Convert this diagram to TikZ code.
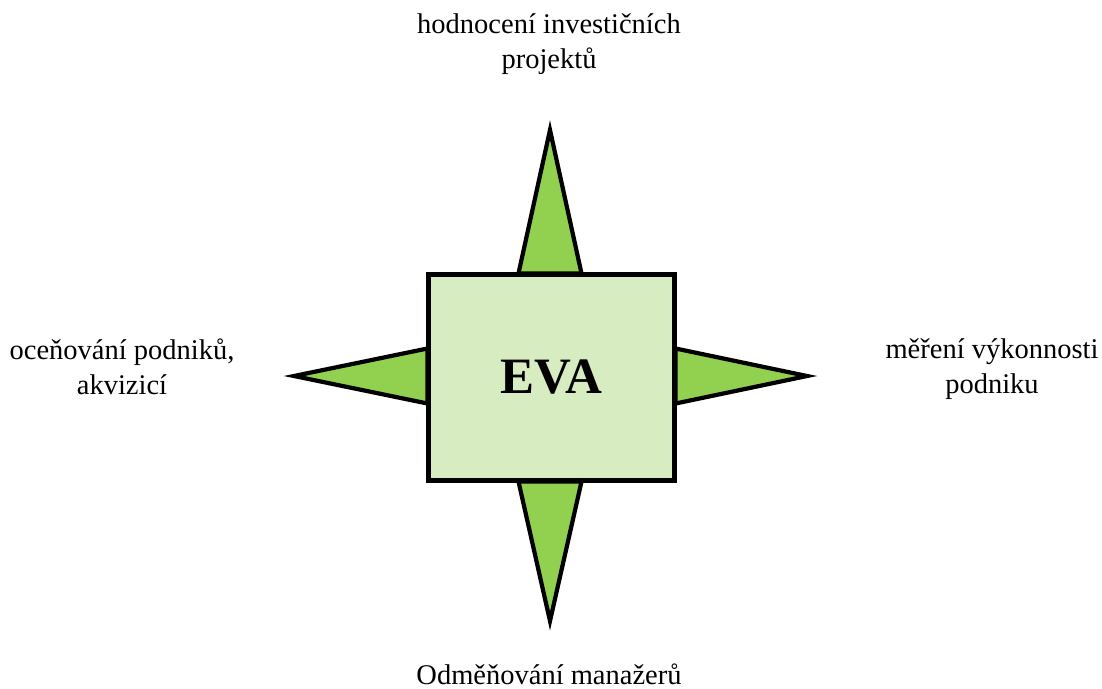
\documentclass[tikz,border=0pt]{standalone}
\usepackage{fontspec}
\setmainfont{Liberation Serif}
\usetikzlibrary{calc,backgrounds}
\definecolor{boxfill}{HTML}{D7EDC1}
\definecolor{spike}{HTML}{92D050}
\tikzset{
  evabox/.style={draw=black, line width=4.2pt, fill=boxfill, inner sep=0pt,
    minimum width=246pt, minimum height=206pt,
    font=\fontsize{51}{60}\selectfont\bfseries},
  spikeshape/.style={draw=black, line width=4.2pt, fill=spike, line join=miter},
  lbl/.style={align=center, inner sep=0pt, anchor=base,
    font=\fontsize{28.5}{35}\selectfont}
}
\begin{document}
\begin{tikzpicture}[x=1pt, y=-1pt]
  \useasboundingbox (0,0) rectangle (1102,688);
  % central box
  \node[evabox] (eva) at (551.5,377.5) {EVA};
  % spike tips
  \coordinate (tipN) at (550,130);
  \coordinate (tipS) at (550,621);
  \coordinate (tipW) at (294,376);
  \coordinate (tipE) at (807,376);
  % four spikes behind the box
  \begin{scope}[on background layer]
    \draw[spikeshape] ($(eva.north)+(-33,1)$) -- (tipN) -- ($(eva.north)+(30,1)$) -- cycle;
    \draw[spikeshape] ($(eva.south)+(-33,-1)$) -- (tipS) -- ($(eva.south)+(30,-1)$) -- cycle;
    \draw[spikeshape] ($(eva.west)+(1,-29)$) -- (tipW) -- ($(eva.west)+(1,26)$) -- cycle;
    \draw[spikeshape] ($(eva.east)+(-1,-29)$) -- (tipE) -- ($(eva.east)+(-1,26)$) -- cycle;
  \end{scope}
  % labels (anchored at the baseline of the last line)
  \node[lbl] (lN) at (549,68) {hodnocení investičních\\projektů};
  \node[lbl] (lW) at (122,394) {oceňování podniků,\\akvizicí};
  \node[lbl] (lE) at (992,393.5) {měření výkonnosti\\podniku};
  \node[lbl] (lS) at (549,684) {Odměňování manažerů};
\end{tikzpicture}
\end{document}
